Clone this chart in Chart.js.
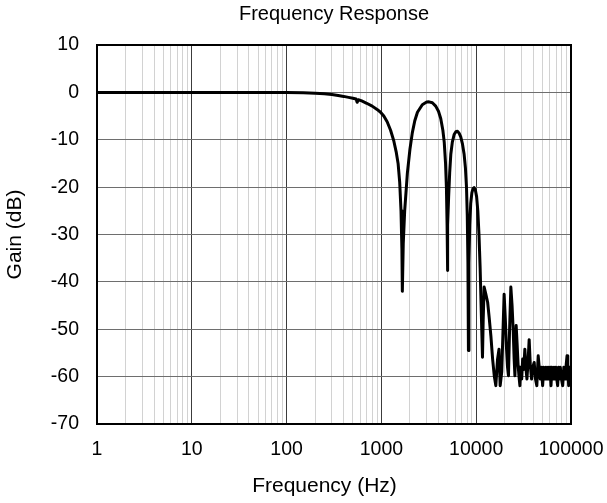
<!DOCTYPE html>
<html><head><meta charset="utf-8">
<script src="https://cdn.jsdelivr.net/npm/chart.js@4"></script>
<style>html,body{margin:0;padding:0;background:#fff}canvas{display:block}</style>
</head><body>
<canvas id="c" width="607" height="503"></canvas>
<script>
// ---- data ----
const freqHz = [
  1, 10, 50, 100, 150, 200, 250, 300, 350, 400, 450, 500, 540, 555, 570, 620, 700, 800, 900, 980,
  1060, 1150, 1250, 1350, 1430, 1500, 1560, 1610, 1645, 1663,
  1700, 1760, 1880, 2000, 2120, 2250, 2400, 2700, 3000, 3180, 3450, 3740, 4000, 4225, 4450, 4600, 4750, 4850, 4930, 4970,
  5020, 5120, 5250, 5400, 5600, 5850, 6100, 6340, 6600, 6870, 7150, 7450, 7700, 7900, 8050, 8180, 8280,
  8380, 8550, 8750, 9000, 9250, 9500, 9800, 10100, 10400, 10700, 11000, 11300, 11650,
  11850, 12130, 12600, 13200, 13700, 14300, 14900, 15500, 16100, 16800, 17400, 17900, 18600, 19200, 19700,
  20300, 20900, 21400, 21900, 22500, 23200, 23900, 24600, 25100, 25600, 26000, 26400, 27000, 27700, 28300, 28900,
  29500, 30200, 30900, 31700, 32600, 33400, 34300, 35200, 36200, 37200, 38400, 39500, 40900, 42200, 43600, 44500,
  45100, 46200, 47400, 48700, 50200, 51600, 53100, 54500, 56000, 57500, 59000, 60200, 61500, 63000, 64600, 66000,
  67700, 69400, 70800, 72300, 74000, 75500, 77100, 79300, 81700, 84000, 86500, 88500, 90800, 92500, 94500, 96500, 98000, 100000
];
const gainDb = [
  0, 0, 0, -0.05, -0.1, -0.2, -0.3, -0.45, -0.65, -0.85, -1.05, -1.25, -1.4, -2.1, -1.55, -1.8, -2.3, -2.9, -3.6, -4.2,
  -5.0, -6.2, -8.0, -10.2, -12.5, -15.0, -19.0, -25.0, -33.0, -42.0,
  -32.0, -25.0, -17.0, -12.0, -8.5, -6.0, -4.2, -2.6, -2.05, -2.0, -2.2, -2.9, -4.0, -5.5, -8.0, -10.5, -15.0, -20.0, -28.0, -37.6,
  -28.0, -22.0, -17.0, -13.0, -10.5, -8.9, -8.3, -8.2, -8.6, -9.4, -10.8, -13.0, -16.0, -20.0, -26.0, -36.0, -54.5,
  -36.0, -28.0, -23.5, -21.2, -20.3, -20.1, -20.6, -22.0, -25.0, -30.0, -37.0, -46.0, -55.9,
  -48.0, -41.1, -42.5, -44.3, -47.5, -51.5, -56.3, -59.8, -61.9, -56.3, -54.2, -61.9, -59.0, -50.0, -42.6,
  -48.0, -54.2, -58.0, -59.8, -50.0, -41.1, -45.0, -50.6, -56.0, -59.8, -55.0, -49.2, -53.0, -57.7, -60.0, -61.9,
  -58.0, -60.5, -56.3, -58.5, -54.2, -58.0, -60.5, -57.0, -52.2, -57.5, -60.5, -58.0, -57.0, -60.5, -61.9, -58.0,
  -55.6, -58.0, -60.5, -58.0, -61.9, -58.0, -60.5, -58.0, -60.5, -58.0, -60.5, -58.0, -61.9, -58.0, -60.5, -58.0,
  -60.5, -58.0, -60.5, -61.9, -58.0, -60.5, -58.0, -60.5, -61.9, -58.0, -60.5, -58.0, -55.6, -58.0, -61.9, -58.0, -60.5, -58.4
];
const xDecades = [1, 10, 100, 1000, 10000, 100000];
const xMultipliers = [1, 2, 3, 4, 5, 6, 7, 8, 9];
const yMin = -70, yMax = 10, yStep = 10;
const chartTitle = 'Frequency Response';
const xTitle = 'Frequency (Hz)';
const yTitle = 'Gain (dB)';

// ---- chart ----
const FAM = "'Liberation Sans', Arial, sans-serif";
const tickFont = {family: FAM, size: 19.5};
const axisTitleFont = {family: FAM, size: 21};
const mainTitleFont = {family: FAM, size: 20};

const xTickValues = [];
xDecades.slice(0, -1).forEach(d => xMultipliers.forEach(m => xTickValues.push(d * m)));
xTickValues.push(xDecades[xDecades.length - 1]);
const isDecade = v => xDecades.some(d => Math.abs(d - v) < 1e-9 * d);

const points = freqHz.map((f, i) => ({x: f, y: gainDb[i]}));
const noPad = s => { s.paddingLeft = 0; s.paddingRight = 0; };

// x-axis title, drawn slightly left of the plot centre as in the reference
const xTitlePlugin = {
  id: 'xTitleText',
  afterDraw(chart) {
    const {ctx, chartArea, height} = chart;
    ctx.save();
    ctx.font = `${axisTitleFont.size}px ${FAM}`;
    ctx.fillStyle = '#000';
    ctx.textAlign = 'center';
    ctx.textBaseline = 'middle';
    ctx.fillText(xTitle, (chartArea.left + chartArea.right) / 2 - 9.5, height - 16.5);
    ctx.restore();
  }
};

new Chart(document.getElementById('c'), {
  type: 'scatter',
  data: {datasets: [{
    data: points, showLine: true, borderColor: '#000', backgroundColor: '#000',
    borderWidth: 3, pointRadius: 0, tension: 0, xAxisID: 'x', yAxisID: 'y',
    borderJoinStyle: 'round', borderCapStyle: 'round'
  }]},
  plugins: [xTitlePlugin],
  options: {
    responsive: false, animation: false, devicePixelRatio: 1,
    layout: {padding: 0},
    plugins: {legend: {display: false}, title: {display: false}, tooltip: {enabled: false}},
    scales: {
      x: {
        type: 'logarithmic', position: 'bottom', min: xDecades[0], max: xDecades[xDecades.length - 1],
        afterBuildTicks: s => { s.ticks = xTickValues.map(v => ({value: v, major: isDecade(v)})); },
        afterFit: s => { s.height = 79; noPad(s); },
        grid: {drawTicks: false, lineWidth: 1, color: c => (c.tick && isDecade(c.tick.value)) ? '#3c3c3c' : '#d2d2d2'},
        border: {display: true, color: '#000', width: 2},
        ticks: {autoSkip: false, maxRotation: 0, minRotation: 0, padding: 14, color: '#000', font: tickFont,
                callback: v => isDecade(v) ? String(v) : ''},
        title: {display: false, text: xTitle}
      },
      xTop: {
        type: 'logarithmic', position: 'top', min: xDecades[0], max: xDecades[xDecades.length - 1],
        afterFit: s => { s.height = 45; noPad(s); },
        grid: {display: false, drawTicks: false},
        ticks: {display: false},
        border: {display: true, color: '#000', width: 2},
        title: {display: true, text: chartTitle, color: '#000', font: mainTitleFont, padding: {top: 2, bottom: 0}}
      },
      y: {
        type: 'linear', position: 'left', min: yMin, max: yMax,
        afterFit: s => { s.width = 97; },
        ticks: {stepSize: yStep, padding: 18, color: '#000', font: tickFont},
        grid: {drawTicks: false, color: '#6e6e6e', lineWidth: 1},
        border: {display: true, color: '#000', width: 2},
        title: {display: true, text: yTitle, color: '#000', font: axisTitleFont, padding: {top: 3, bottom: 0}}
      },
      yRight: {
        type: 'linear', position: 'right', min: yMin, max: yMax,
        afterFit: s => { s.width = 36; },
        grid: {display: false, drawTicks: false},
        ticks: {display: false},
        border: {display: true, color: '#000', width: 2}
      }
    }
  }
});
</script>
</body></html>
